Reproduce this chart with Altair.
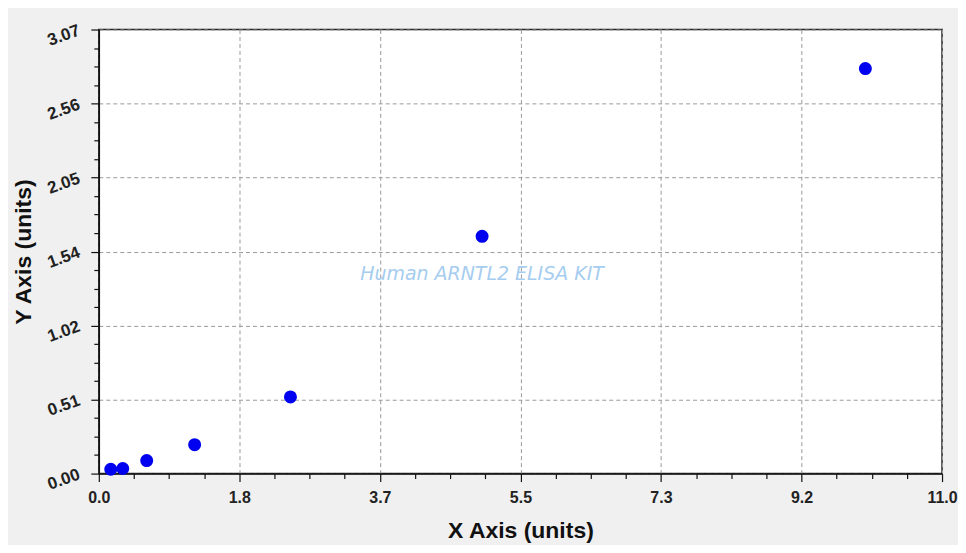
import json
import altair as alt
import pandas as pd

# ---- data ----
conc = [0.156, 0.3125, 0.625, 1.25, 2.5, 5.0, 10.0]
od = [0.030, 0.035, 0.090, 0.200, 0.530, 1.640, 2.800]
x_labels = ["0.0", "1.8", "3.7", "5.5", "7.3", "9.2", "11.0"]
y_labels = ["0.00", "0.51", "1.02", "1.54", "2.05", "2.56", "3.07"]
X_MAX = 11.0
Y_MAX = 3.07
watermark = ["Human ARNTL2 ELISA KIT"]

df = pd.DataFrame({"x": conc, "y": od})
wm = pd.DataFrame({"t": watermark})

W, H = 845, 445
FONT = "Liberation Sans"

# major ticks every 1/6 of the range, minor ticks every 1/24
x_vals = [X_MAX * k / 24 for k in range(25)]
y_vals = [Y_MAX * k / 24 for k in range(25)]

def idx(maxv):
    return f"round(datum.value*24/{maxv})"

def major(maxv):
    return f"{idx(maxv)} % 4 === 0"

def label_expr(maxv, labels):
    return f"{major(maxv)} ? {json.dumps(labels)}[{idx(maxv)}/4] : ''"

def make_axis(maxv, labels, vals, label_size, title_size, **kw):
    return alt.Axis(
        values=vals,
        labelExpr=label_expr(maxv, labels),
        tickSize={"condition": {"test": major(maxv), "value": 8}, "value": 5},
        gridOpacity={"condition": {"test": major(maxv), "value": 1}, "value": 0},
        grid=True,
        gridColor="#9a9a9a",
        gridDash=[4, 3],
        gridWidth=1,
        domainColor="#111111",
        domainWidth=1.5,
        tickColor="#111111",
        tickWidth=1.2,
        labelFont=FONT,
        labelFontSize=label_size,
        labelFontWeight="bold",
        labelColor="#222222",
        labelOverlap=False,
        labelFlush=False,
        labelBound=False,
        titleFont=FONT,
        titleFontSize=title_size,
        titleFontWeight="bold",
        titleColor="#111111",
        **kw,
    )

x_axis = make_axis(X_MAX, x_labels, x_vals, 16, 23, title="X Axis (units)",
                   labelPadding=8, titleY=64, titleBaseline="alphabetic")
y_axis = make_axis(Y_MAX, y_labels, y_vals, 17, 23, title="Y Axis (units)",
                   labelAngle=340, labelAlign="right", labelBaseline="middle",
                   labelPadding=12, titleX=-68, titleBaseline="alphabetic")

points = alt.Chart(df).mark_circle(size=170, color="#0000f0", opacity=1).encode(
    x=alt.X("x:Q", scale=alt.Scale(domain=[0, X_MAX], nice=False, zero=False), axis=x_axis),
    y=alt.Y("y:Q", scale=alt.Scale(domain=[0, Y_MAX], nice=False, zero=False), axis=y_axis),
)

text = alt.Chart(wm).mark_text(
    font="DejaVu Sans", fontSize=19, fontStyle="italic", color="#a6cdef",
    align="center", baseline="middle",
).encode(x=alt.value(384), y=alt.value(245), text="t:N")

chart = alt.layer(points, text).properties(
    width=W, height=H,
    autosize=alt.AutoSizeParams(type="none"),
    padding={"left": 91, "top": 21, "right": 16, "bottom": 71},
    background="#f0f0f0",
).configure_view(fill="white", stroke="#222222", strokeWidth=1.5)

chart.save("out.html", embed_options={"renderer": "svg", "actions": False})
